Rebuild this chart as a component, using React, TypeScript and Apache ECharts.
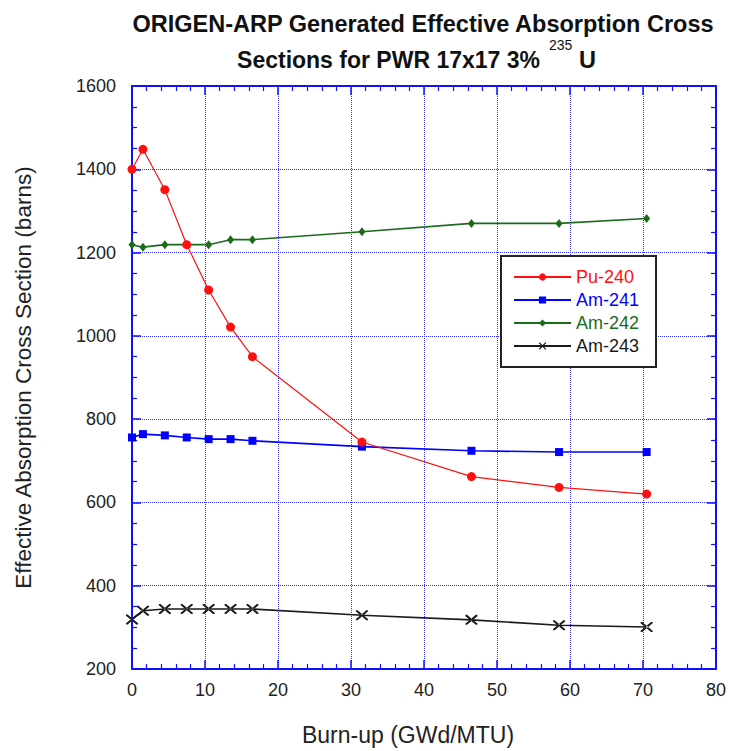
import React, { useEffect, useRef } from "react";
import * as echarts from "echarts";

const burnup = [0, 1.5, 4.5, 7.5, 10.5, 13.5, 16.5, 31.5, 46.5, 58.5, 70.5];
const pu240 = [1400, 1448, 1351, 1219, 1110, 1021, 950, 745, 662, 636, 620];
const am241 = [756, 764, 761, 756, 752, 752, 748, 734, 724, 721, 721];
const am242 = [1219, 1213, 1219, 1219, 1219, 1231, 1231, 1250, 1270, 1270, 1282];
const am243 = [319, 340, 344, 344, 344, 344, 344, 329, 318, 305, 301];

const seriesNames = ["Pu-240", "Am-241", "Am-242", "Am-243"];
const seriesColors = ["#ff1010", "#0000ff", "#1b6b1b", "#1a1a1a"];
const titleLine1 = "ORIGEN-ARP Generated Effective Absorption Cross";
const titleLine2 = "Sections for PWR 17x17 3%";
const titleSup = "235";
const titleEnd = "U";
const xName = "Burn-up (GWd/MTU)";
const yName = "Effective Absorption Cross Section (barns)";

const FONT = "'Liberation Sans', Arial, sans-serif";
const AXIS_BLUE = "#1010ff";
const X_PATH =
  "path://M0,0L1.6,0L12,8.7L12,10L10.4,10L0,1.3ZM12,0L10.4,0L0,8.7L0,10L1.6,10L12,1.3Z";

function pairs(ys: number[]) {
  return burnup.map((x, i) => [x, ys[i]]);
}

export default function App() {
  const ref = useRef<HTMLDivElement>(null);
  useEffect(() => {
    if (!ref.current) return;
    document.body.style.margin = "0";
    document.body.style.overflow = "hidden";
    const chart = echarts.init(ref.current, null, { renderer: "svg" });
    const values = [pu240, am241, am242, am243];
    const symbols = ["circle", "rect", "diamond", X_PATH];
    const sizes: any[] = [9, 8, [7, 9], [12, 10]];
    const widths = [1.2, 1.6, 1.6, 1.6];
    const axisCommon = {
      axisLine: { show: true, onZero: false, lineStyle: { color: AXIS_BLUE, width: 2 } },
      axisTick: { show: true, inside: true, length: 9, lineStyle: { color: AXIS_BLUE, width: 1.5 } },
      minorTick: { show: true, length: 5, lineStyle: { color: AXIS_BLUE, width: 1.2 } },
    };
    const titleFont = `bold 23.5px ${FONT}`;
    chart.setOption({
      animation: false,
      backgroundColor: "#ffffff",
      grid: { left: 132, right: 12, top: 86, bottom: 82, containLabel: false },
      graphic: [
        {
          type: "text",
          x: 423,
          y: 24,
          style: { text: titleLine1, font: titleFont, fill: "#111", align: "center", verticalAlign: "middle" },
        },
        {
          type: "text",
          x: 540,
          y: 60,
          style: { text: titleLine2, font: `bold 23px ${FONT}`, fill: "#111", align: "right", verticalAlign: "middle" },
        },
        {
          type: "text",
          x: 549,
          y: 45,
          style: { text: titleSup, font: `14px ${FONT}`, fill: "#111", align: "left", verticalAlign: "middle" },
        },
        {
          type: "text",
          x: 579,
          y: 60,
          style: { text: titleEnd, font: titleFont, fill: "#111", align: "left", verticalAlign: "middle" },
        },
      ],
      legend: {
        show: true,
        orient: "vertical",
        left: 501,
        top: 256,
        padding: [12, 17, 12, 12],
        itemWidth: 57,
        itemHeight: 9,
        itemGap: 5,
        backgroundColor: "#ffffff",
        borderColor: "#222",
        borderWidth: 2,
        borderRadius: 0,
        textStyle: { fontSize: 18, fontFamily: FONT, lineHeight: 18 },
        data: seriesNames.map((n, i) => ({ name: n, textStyle: { color: seriesColors[i] } })),
      },
      xAxis: [
        {
          type: "value",
          position: "bottom",
          min: 0,
          max: 80,
          interval: 10,
          name: xName,
          nameLocation: "middle",
          nameGap: 54,
          nameTextStyle: { fontSize: 23, fontFamily: FONT, color: "#222", padding: [0, 32, 0, 0] },
          axisLabel: { fontSize: 18, fontFamily: FONT, color: "#222", margin: 12 },
          splitLine: { show: true, lineStyle: { color: "#3333ff", type: "dotted", width: 1 } },
          minorTick: { ...axisCommon.minorTick, splitNumber: 5 },
          axisLine: axisCommon.axisLine,
          axisTick: axisCommon.axisTick,
        },
        {
          type: "value",
          position: "top",
          min: 0,
          max: 80,
          interval: 10,
          axisLabel: { show: false },
          splitLine: { show: false },
          minorTick: { ...axisCommon.minorTick, splitNumber: 5 },
          axisLine: axisCommon.axisLine,
          axisTick: axisCommon.axisTick,
        },
      ],
      yAxis: [
        {
          type: "value",
          position: "left",
          min: 200,
          max: 1600,
          interval: 200,
          name: yName,
          nameLocation: "middle",
          nameGap: 97,
          nameTextStyle: { fontSize: 22.5, fontFamily: FONT, color: "#222" },
          axisLabel: {
            fontSize: 18,
            fontFamily: FONT,
            color: "#222",
            margin: 16,
            formatter: (v: number) => String(v),
          },
          splitLine: { show: true, lineStyle: { color: "#3333ff", type: "dotted", width: 1 } },
          minorTick: { ...axisCommon.minorTick, splitNumber: 4 },
          axisLine: axisCommon.axisLine,
          axisTick: axisCommon.axisTick,
        },
        {
          type: "value",
          position: "right",
          min: 200,
          max: 1600,
          interval: 200,
          axisLabel: { show: false },
          splitLine: { show: false },
          minorTick: { ...axisCommon.minorTick, splitNumber: 4 },
          axisLine: axisCommon.axisLine,
          axisTick: axisCommon.axisTick,
        },
      ],
      series: seriesNames.map((n, i) => ({
        name: n,
        type: "line",
        xAxisIndex: 0,
        yAxisIndex: 0,
        data: pairs(values[i]),
        symbol: symbols[i],
        symbolSize: sizes[i],
        showSymbol: true,
        color: seriesColors[i],
        lineStyle: { color: seriesColors[i], width: widths[i] },
        itemStyle: { color: seriesColors[i] },
        emphasis: { disabled: true },
        z: 10 - i,
      })),
    });
    return () => chart.dispose();
  }, []);
  return <div ref={ref} style={{ width: 729, height: 751 }} />;
}
